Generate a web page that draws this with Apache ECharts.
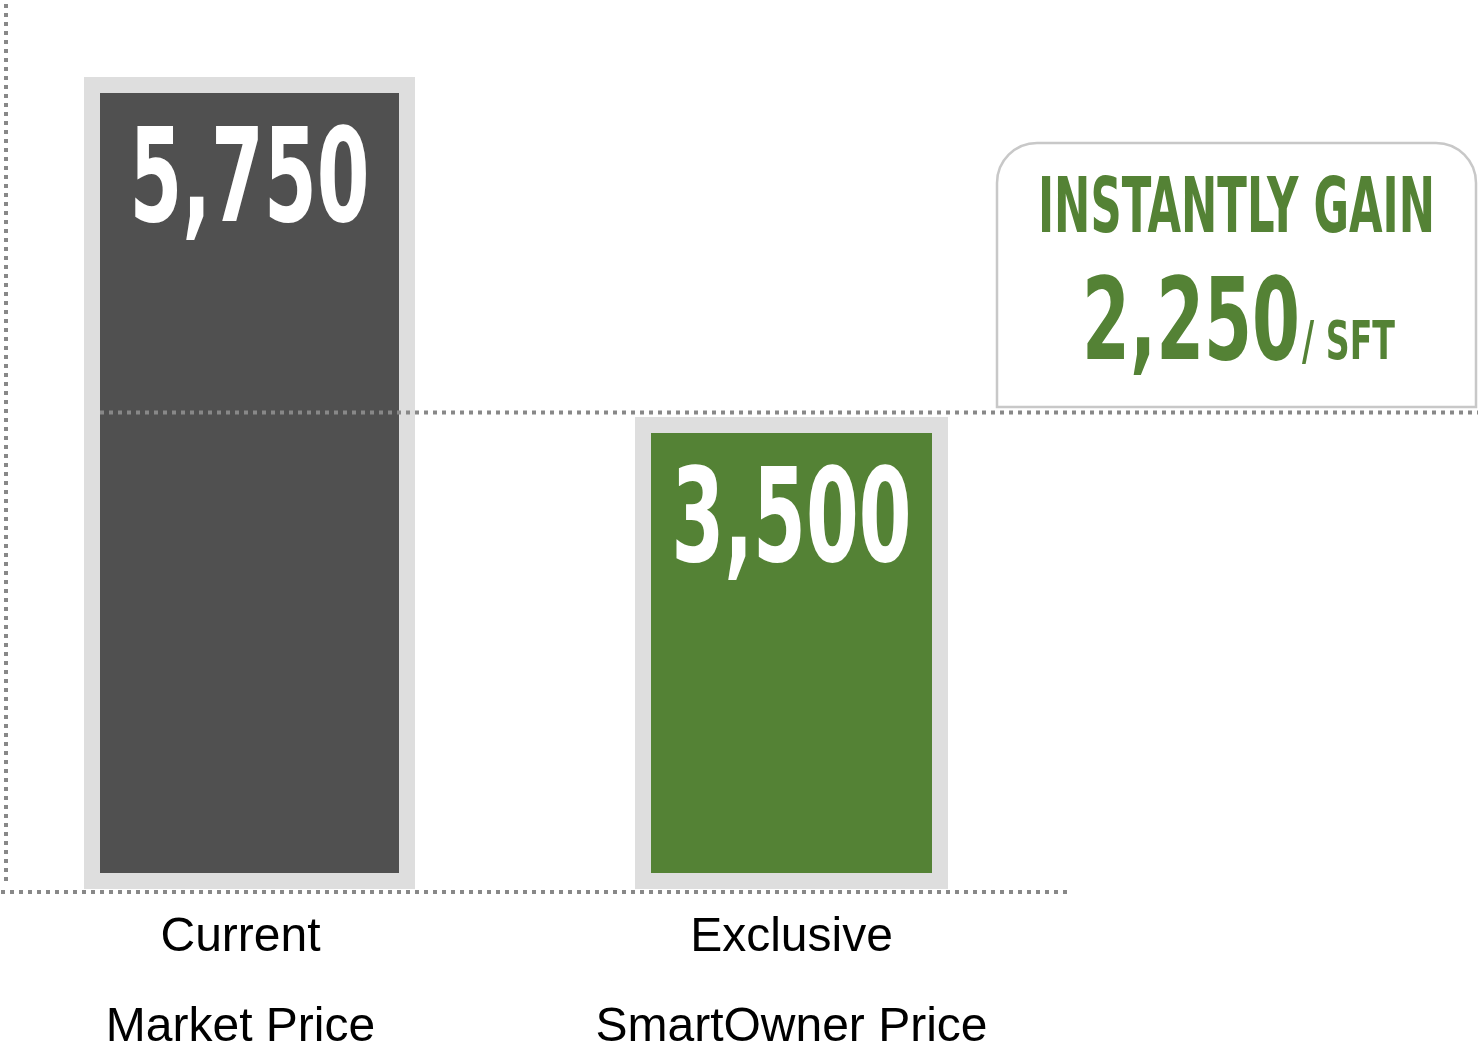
<!DOCTYPE html>
<html>
<head>
<meta charset="utf-8">
<script src="https://cdn.jsdelivr.net/npm/echarts@6/dist/echarts.min.js"></script>
<style>
  html, body { margin: 0; padding: 0; background: #fff; }
  #chart { width: 1478px; height: 1048px; }
</style>
</head>
<body>
<div id="chart"></div>
<script>
// Price per sft: market vs SmartOwner, with the gain called out on the right.
const categories = ['Current\nMarket Price', 'Exclusive\nSmartOwner Price'];
const prices = [5750, 3500];
const calloutTitle = 'INSTANTLY GAIN';
const calloutUnit = '/ SFT';

const gain = prices[0] - prices[1];
const fmt = (v) => v.toLocaleString('en-US');

const DARK = '#505050';
const GREEN = '#548235';
const FRAME = '#dedede';
const DOTS = '#888888';
const NARROW = "'Liberation Sans Narrow', 'DejaVu Sans Condensed', 'Arial Narrow', sans-serif";
const SANS = "'Liberation Sans', Arial, Helvetica, sans-serif";

// no narrow display font here, so squeeze a condensed bold horizontally to the reference width
const mctx = document.createElement('canvas').getContext('2d');
function fit(text, size, width) {
  const font = `bold ${size}px ${NARROW}`;
  mctx.font = font;
  return { font, scaleX: width / mctx.measureText(text).width };
}

const chart = echarts.init(document.getElementById('chart'));
const dotted = { color: DOTS, width: 4, type: [4, 5], cap: 'butt' };

// one series per bar so each can keep its own width; barGap -100% overlays them
const barWidths = [331, 313];
const barColors = [DARK, GREEN];

chart.setOption({
  animation: false,
  backgroundColor: '#fff',
  grid: { left: -35, right: 411, top: 0, bottom: 167, containLabel: false, outerBoundsMode: 'none' },
  xAxis: {
    type: 'category',
    data: categories,
    offset: 11,
    axisLine: { onZero: false, lineStyle: dotted },
    axisTick: { show: false },
    axisLabel: {
      interval: 0, margin: 1, color: '#000',
      fontFamily: SANS, fontSize: 48, lineHeight: 90,
    },
  },
  yAxis: {
    type: 'value',
    min: 430,
    max: 6260,
    offset: -41,
    axisLine: { show: true, lineStyle: dotted },
    axisTick: { show: false },
    axisLabel: { show: false },
    splitLine: { show: false },
  },
  series: prices.map((_, i) => ({
    type: 'bar',
    data: prices.map((v, j) => (j === i ? v : '-')),
    barWidth: barWidths[i],
    barGap: '-100%',
    itemStyle: { color: barColors[i], borderColor: FRAME, borderWidth: 16 },
  })),
});

// value labels: placed from the axes, squeezed like the original display type
const valueLabels = prices.map((v, i) => {
  const cx = chart.convertToPixel({ xAxisIndex: 0 }, i) + (barWidths[i] - barWidths[1]) / 2;
  const top = chart.convertToPixel({ yAxisIndex: 0 }, v);
  const f = fit(fmt(v), 130, 240);
  return {
    type: 'text', z: 20, x: cx, y: top + 110, scaleX: f.scaleX,
    style: { text: fmt(v), font: f.font, fill: '#fff', align: 'center', verticalAlign: 'middle' },
  };
});

// guide line at the level of the SmartOwner price, and the gain callout
const levelY = chart.convertToPixel({ yAxisIndex: 0 }, prices[1]) - 4.5;
const title = fit(calloutTitle, 76, 397);
const value = fit(fmt(gain), 114, 218);
const unit = fit(calloutUnit, 54, 93);

chart.setOption({
  graphic: [
    {
      type: 'rect', z: 5,
      shape: { x: 997, y: 143, width: 479, height: 264, r: [40, 40, 0, 0] },
      style: { fill: '#fff', stroke: '#c8c8c8', lineWidth: 2.5 },
    },
    {
      type: 'line', z: 10,
      shape: { x1: 100, y1: levelY, x2: 1478, y2: levelY },
      style: { stroke: DOTS, lineWidth: 4, lineDash: [4, 5], lineCap: 'butt' },
    },
    {
      type: 'text', z: 11, x: 1236.5, y: 212, scaleX: title.scaleX,
      style: { text: calloutTitle, font: title.font, fill: GREEN, align: 'center', verticalAlign: 'middle' },
    },
    {
      type: 'text', z: 11, x: 1082, y: 329, scaleX: value.scaleX,
      style: { text: fmt(gain), font: value.font, fill: GREEN, align: 'left', verticalAlign: 'middle' },
    },
    {
      type: 'text', z: 11, x: 1302, y: 345, scaleX: unit.scaleX,
      style: { text: calloutUnit, font: unit.font, fill: GREEN, align: 'left', verticalAlign: 'middle' },
    },
  ].concat(valueLabels),
});
</script>
</body>
</html>
